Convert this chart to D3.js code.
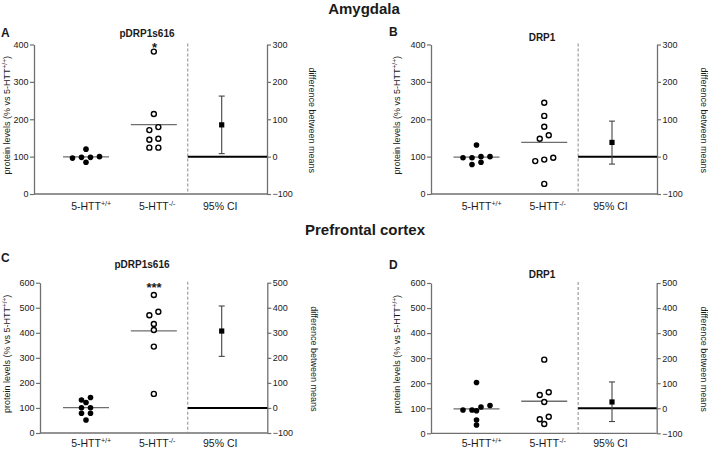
<!DOCTYPE html>
<html><head><meta charset="utf-8">
<script src="https://cdn.jsdelivr.net/npm/d3@7"></script>
<style>
body{margin:0;background:#fff}
text{font-family:"Liberation Sans",Arial,Helvetica,sans-serif;fill:#1a1a1a}
</style>
</head><body>
<svg id="chart" width="708" height="450"></svg>
<script>
// ---------------- data ----------------
const groupKeys = ["5-HTT+/+", "5-HTT-/-"];
const groupBase = ["5-HTT", "5-HTT"];
const groupSup = ["+/+", "-/-"];
const ciLabel = "95% CI";

// Amygdala pDRP1s616
const amyP_wt = [98, 98, 85, 120, 96, 100];
const amyP_ko = [381, 214, 171, 179, 145, 148, 124, 124];
const amyP_ci = [85, 8, 162];      // mean diff, low, high
// Amygdala DRP1
const amyD_wt = [131, 97, 100, 100, 97, 79, 85];
const amyD_ko = [244, 209, 180, 148, 157, 97, 88, 92, 27];
const amyD_ci = [38, -20, 95];
// Prefrontal cortex pDRP1s616
const pfcP_wt = [132, 101, 79, 142, 122, 101, 79, 52];
const pfcP_ko = [551, 470, 484, 435, 411, 345, 156];
const pfcP_ci = [307, 206, 407];
// Prefrontal cortex DRP1
const pfcD_wt = [203, 93, 93, 111, 105, 90, 53, 33];
const pfcD_ko = [294, 153, 164, 125, 66, 56, 37];
const pfcD_ci = [25, -53, 105];

const leftTicksAmy = [0, 100, 200, 300, 400];
const rightTicksAmy = [-100, 0, 100, 200, 300];
const leftTicksPfc = [0, 100, 200, 300, 400, 500, 600];
const rightTicksPfc = [-100, 0, 100, 200, 300, 400, 500];

const sectionTitles = ["Amygdala", "Prefrontal cortex"];
const panelLetters = ["A", "B", "C", "D"];
const panelTitles = ["pDRP1s616", "DRP1", "pDRP1s616", "DRP1"];
const panelStars = ["*", "", "***", ""];

// ---------------- layout ----------------
const svg = d3.select("#chart");
const AX = "#707070";

const panels = [
  {wt: amyP_wt, ko: amyP_ko, ci: amyP_ci, lt: leftTicksAmy, rt: rightTicksAmy,
   left: 34, right: 267, top: 44.5, bottom: 194, x1: 86, xci: 221.7,
   letter: [1, 37], title: [147, 37], star: [154.5, 52], lab: 210, ylx: 10, yrx: 309},
  {wt: amyD_wt, ko: amyD_ko, ci: amyD_ci, lt: leftTicksAmy, rt: rightTicksAmy,
   left: 431, right: 657, top: 44.5, bottom: 194, x1: 476.5, xci: 612,
   letter: [389, 36], title: [542, 41], star: [0, 0], lab: 210, ylx: 400, yrx: 701},
  {wt: pfcP_wt, ko: pfcP_ko, ci: pfcP_ci, lt: leftTicksPfc, rt: rightTicksPfc,
   left: 40, right: 267.3, top: 282.7, bottom: 433, x1: 86, xci: 221.7,
   letter: [1, 262], title: [142, 268], star: [154, 292], lab: 447, ylx: 10, yrx: 311},
  {wt: pfcD_wt, ko: pfcD_ko, ci: pfcD_ci, lt: leftTicksPfc, rt: rightTicksPfc,
   left: 431, right: 656.7, top: 283, bottom: 433.3, x1: 476.5, xci: 612,
   letter: [389, 269], title: [542, 278], star: [0, 0], lab: 447, ylx: 400, yrx: 701}
];

// section titles
svg.append("text").attr("x", 364).attr("y", 14).attr("text-anchor", "middle")
  .style("font-size", "15px").style("font-weight", "bold").text(sectionTitles[0]);
svg.append("text").attr("x", 365).attr("y", 235).attr("text-anchor", "middle")
  .style("font-size", "15px").style("font-weight", "bold").text(sectionTitles[1]);

// row-based dodge (GraphPad-like): group close values into rows, centre each row
function dodge(values, y, step, thr) {
  const pts = values.map(v => ({v, y: y(v)})).sort((a, b) => a.y - b.y);
  const rows = [];
  pts.forEach(p => {
    const r = rows[rows.length - 1];
    if (r && Math.abs(p.y - r[0].y) < thr) r.push(p); else rows.push([p]);
  });
  rows.forEach(r => {
    r.sort((a, b) => a.v - b.v);
    r.forEach((p, i) => p.dx = (i - (r.length - 1) / 2) * step);
  });
  return pts;
}

function supLabel(g, cx, y, base, sup, size) {
  const t = g.append("text").attr("y", y).style("font-size", size + "px");
  const b = t.append("tspan").text(base);
  t.append("tspan").attr("dy", -size * 0.42).style("font-size", (size * 0.68) + "px").text(sup);
  const w = b.node().getComputedTextLength();
  t.attr("x", cx - w / 2);
}

panels.forEach((p, i) => {
  const g = svg.append("g");
  const xDomain = [groupKeys[0], "gap", groupKeys[1], "divider", ciLabel];
  const x = d3.scalePoint().domain(xDomain).range([p.x1, p.xci]);
  const yMax = p.lt[p.lt.length - 1];
  const yL = d3.scaleLinear().domain([0, yMax]).range([p.bottom, p.top]);
  const yR = d3.scaleLinear().domain([p.rt[0], p.rt[p.rt.length - 1]]).range([p.bottom, p.top]);

  // left axis
  const la = g.append("g").attr("transform", `translate(${p.left},0)`)
    .call(d3.axisLeft(yL).tickValues(p.lt).tickSize(4).tickSizeOuter(0).tickPadding(1.5));
  // right axis
  const ra = g.append("g").attr("transform", `translate(${p.right},0)`)
    .call(d3.axisRight(yR).tickValues(p.rt).tickSize(4).tickSizeOuter(0).tickPadding(1.5));
  [la, ra].forEach(a => {
    a.select(".domain").attr("stroke", AX).attr("stroke-width", 1.3);
    a.selectAll(".tick line").attr("stroke", AX).attr("stroke-width", 1.2);
    a.selectAll(".tick text").style("font-size", "9px").style("font-family", "'Liberation Sans',Arial,sans-serif").attr("fill", "#222");
  });
  // bottom axis line
  g.append("line").attr("x1", p.left).attr("x2", p.right).attr("y1", p.bottom).attr("y2", p.bottom)
    .attr("stroke", AX).attr("stroke-width", 1.3);

  // dashed divider
  g.append("line").attr("x1", x("divider")).attr("x2", x("divider"))
    .attr("y1", p.top - 1).attr("y2", p.bottom)
    .attr("stroke", "#8a8a8a").attr("stroke-width", 1).attr("stroke-dasharray", "3,2");
  // zero line for difference
  g.append("line").attr("x1", x("divider")).attr("x2", p.right).attr("y1", yR(0)).attr("y2", yR(0))
    .attr("stroke", "#000").attr("stroke-width", 2);

  // mean lines
  [p.wt, p.ko].forEach((vals, k) => {
    const m = d3.mean(vals);
    g.append("line").attr("x1", x(groupKeys[k]) - 23).attr("x2", x(groupKeys[k]) + 23)
      .attr("y1", yL(m)).attr("y2", yL(m)).attr("stroke", "#6e6e6e").attr("stroke-width", 1.3);
  });

  // points
  const step = 9, thr = 4.6;
  g.selectAll(".wt").data(dodge(p.wt, yL, step, thr)).join("circle")
    .attr("cx", d => x(groupKeys[0]) + d.dx).attr("cy", d => d.y).attr("r", 2.8).attr("fill", "#000");
  g.selectAll(".ko").data(dodge(p.ko, yL, step, thr)).join("circle")
    .attr("cx", d => x(groupKeys[1]) + d.dx).attr("cy", d => d.y).attr("r", 2.5)
    .attr("fill", "#fff").attr("stroke", "#000").attr("stroke-width", 1.4);

  // CI
  const cx = x(ciLabel);
  g.append("line").attr("x1", cx).attr("x2", cx).attr("y1", yR(p.ci[1])).attr("y2", yR(p.ci[2]))
    .attr("stroke", "#444").attr("stroke-width", 1.1);
  [p.ci[1], p.ci[2]].forEach(v => g.append("line").attr("x1", cx - 3).attr("x2", cx + 3)
    .attr("y1", yR(v)).attr("y2", yR(v)).attr("stroke", "#444").attr("stroke-width", 1.1));
  g.append("rect").attr("x", cx - 2.6).attr("y", yR(p.ci[0]) - 2.6).attr("width", 5.2).attr("height", 5.2).attr("fill", "#000");

  // category labels
  supLabel(g, x(groupKeys[0]), p.lab, groupBase[0], groupSup[0], 10.5);
  supLabel(g, x(groupKeys[1]), p.lab, groupBase[1], groupSup[1], 10.5);
  g.append("text").attr("x", cx - 1.5).attr("y", p.lab).attr("text-anchor", "middle")
    .style("font-size", "10.5px").text(ciLabel);

  // axis titles
  const midY = (p.top + p.bottom) / 2;
  const lt = g.append("text").attr("transform", `translate(${p.ylx},${midY - 4}) rotate(-90)`)
    .attr("text-anchor", "middle").style("font-size", "9px");
  lt.append("tspan").text("protein levels (% vs 5-HTT");
  lt.append("tspan").attr("dy", -3.5).style("font-size", "6.5px").text("+/+");
  lt.append("tspan").attr("dy", 3.5).text(")");
  g.append("text").attr("transform", `translate(${p.yrx},${midY + 1}) rotate(90)`)
    .attr("text-anchor", "middle").style("font-size", "9px").text("difference between means");

  // letter, title, star
  g.append("text").attr("x", p.letter[0]).attr("y", p.letter[1])
    .style("font-size", "12px").style("font-weight", "bold").text(panelLetters[i]);
  g.append("text").attr("x", p.title[0]).attr("y", p.title[1]).attr("text-anchor", "middle")
    .style("font-size", "10px").style("font-weight", "bold").text(panelTitles[i]);
  if (panelStars[i]) g.append("text").attr("x", p.star[0]).attr("y", p.star[1]).attr("text-anchor", "middle")
    .style("font-size", "13px").style("font-weight", "bold").text(panelStars[i]);
});
</script>
</body></html>
